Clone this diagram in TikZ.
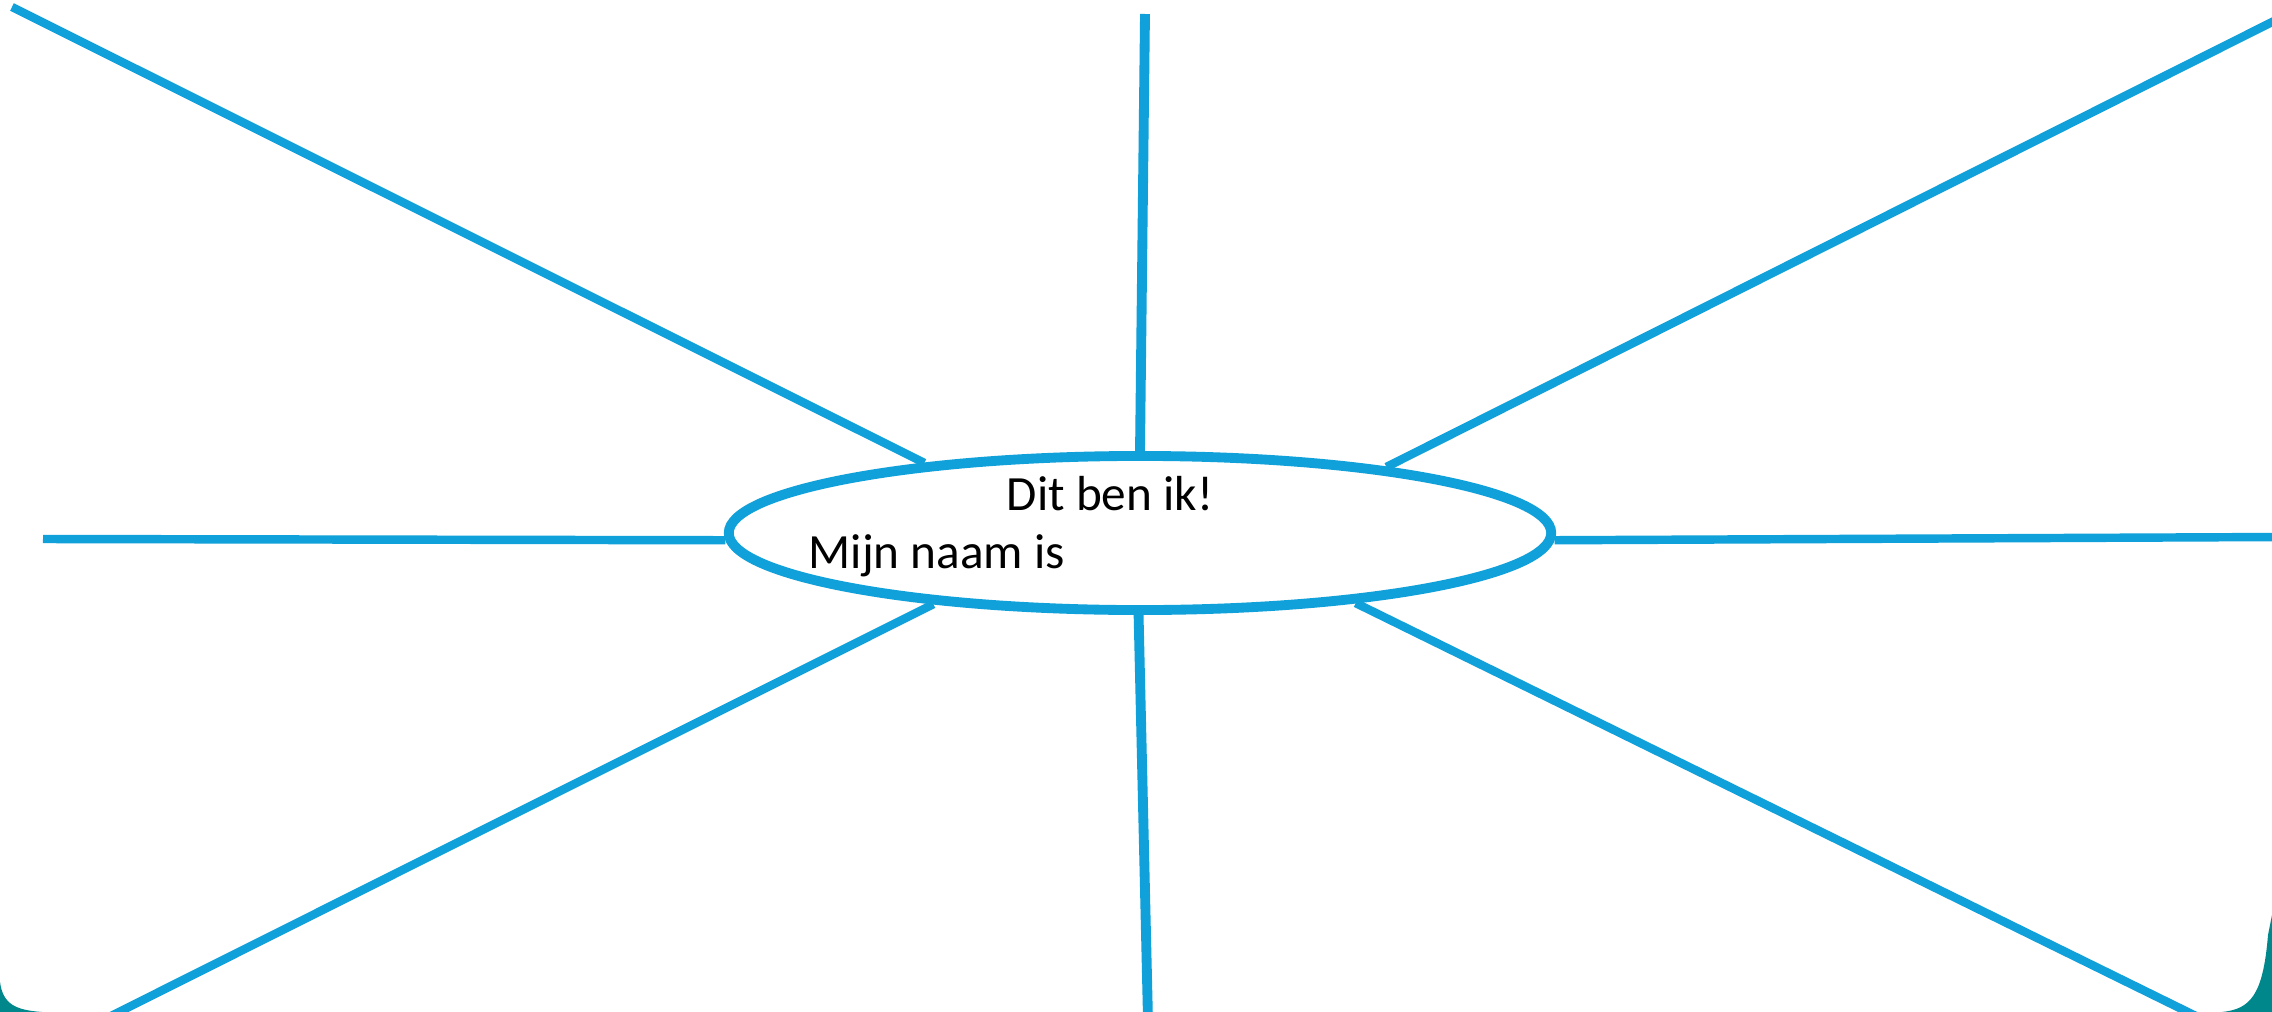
\documentclass[tikz,border=0pt]{standalone}
\usepackage{fontspec}
\setmainfont{Carlito}
\usetikzlibrary{shapes.geometric}
\definecolor{spokeblue}{RGB}{16,160,218}
\definecolor{cornerteal}{RGB}{0,135,140}
\begin{document}
\begin{tikzpicture}[x=0.01cm,y=-0.01cm]
          \tikzstyle{spoke}=[draw,line width=2.4pt,spokeblue]
          \tikzstyle{centre}=[ellipse,draw=spokeblue,line width=2.8pt,fill=white,minimum width=8.22cm,minimum height=1.54cm,inner sep=0pt]
          \tikzstyle{label}=[font=\fontsize{14}{17}\selectfont,inner sep=0pt]
          \useasboundingbox (0,0) rectangle (2272,1012);
          \clip (0,0) rectangle (2272,1012);
          % page and corners
          \fill[white] (0,0) rectangle (2272,1012);
          \fill[cornerteal] (0,982) .. controls (3,1004) and (15,1010) .. (42,1012) -- (0,1012) -- cycle;
          \fill[cornerteal] (2272,915) -- (2268,935) .. controls (2263,996) and (2250,1009) .. (2222,1012) -- (2272,1012) -- cycle;
          \begin{scope}
              \node [centre] (me) at (1140,533) {};
              \coordinate (top) at (1145,14);
              \coordinate (bottom) at (1148,1020);
              \coordinate (left) at (43,539);
              \coordinate (right) at (2280,537);
              \coordinate (ul) at (12,7);
              \coordinate (ur) at (2280,18);
              \coordinate (ll) at (103,1020);
              \coordinate (lr) at (2204,1020);
              \path[spoke,line width=2.8pt] (me.90) edge (top);
              \path[spoke,line width=2.8pt] (me.269.5) edge (bottom);
              \path[spoke] (me.181) edge (left);
              \path[spoke] (me.359) edge (right);
              \path[spoke] (me.162.4) edge (ul);
              \path[spoke] (me.15.4) edge (ur);
              \path[spoke] (me.199.6) edge (ll);
              \path[spoke] (me.342.8) edge (lr);
              \node [label] (title) at (1110,494) {Dit ben ik!};
              \node [label,anchor=west] (name) at (808,556) {Mijn naam is};
          \end{scope}
        \end{tikzpicture}
\end{document}
